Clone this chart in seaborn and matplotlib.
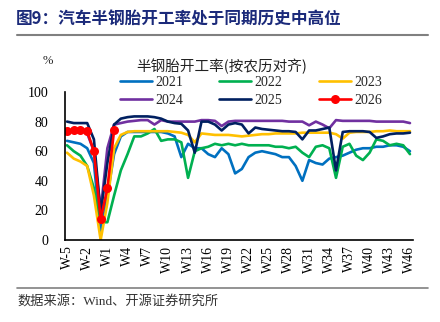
import numpy as np
import pandas as pd
import matplotlib
matplotlib.use("Agg")
import matplotlib.pyplot as plt
from matplotlib.lines import Line2D
import seaborn as sns

weeks = ["W-5", "W-4", "W-3", "W-2", "W-1", "W0"] + [f"W{i}" for i in range(1, 47)]

y2021 = [67, 66, 65, 62, 52, 5, 30, 58, 70, 73, 73, 73, 73, 73, 73, 72, 70, 56, 65, 62,
         62, 58, 56, 62, 58, 45, 48, 56, 59, 60, 59, 58, 56, 56, 50, 40, 54, 52, 51, 55,
         56, 57, 59, 61, 62, 62, 63, 63, 64, 64, 63, 60]
y2022 = [64, 60, 57, 50, 35, 12, 12, 30, 47, 58, 70, 70, 72, 75, 67, 68, 68, 66, 42, 60,
         62, 63, 65, 64, 65, 64, 65, 64, 64, 64, 64, 63, 63, 62, 63, 59, 56, 63, 64, 62,
         42, 63, 65, 57, 54, 59, 68, 67, 64, 65, 64, 58]
y2023 = [59, 55, 53, 50, 30, 0, 25, 62, 71, 73, 73.5, 73.5, 73.5, 73.5, 73.5, 73.5, 73, 72.5, 71, 66,
         72, 71.5, 71, 71, 71, 70.5, 70, 70.5, 71, 71.5, 71.5, 72, 72, 72, 72, 72.5, 72.5, 72.5, 72.5, 72.5,
         71.5, 68.5, 72.5, 73, 73, 73, 73.5, 73.5, 74, 73.5, 73.5, 73.5]
y2024 = [73.5, 73.5, 74, 72, 60, 20, 62, 78, 79, 80, 80.5, 81, 81, 78, 81, 80, 80, 80, 80, 80,
         81, 81, 80.5, 77, 80, 80.5, 80.5, 80.5, 80.5, 80.5, 80.5, 80.5, 80.5, 80, 80, 80, 77.5, 80, 78, 75.5,
         81, 80.5, 80.5, 80.5, 80.5, 80.5, 80, 80, 80, 80, 80, 79]
y2025 = [80, 79, 79, 79, 68, 18, 52, 78, 82, 83, 83.5, 83.5, 83.5, 83, 82, 80, 79, 78.5, 74, 59,
         80, 80, 78, 74, 78, 79, 78, 72, 76, 75, 74.5, 74, 73.5, 73.5, 73, 68, 74, 74, 75, 76,
         47, 73, 73.5, 73.5, 73.5, 73, 69, 70, 71.5, 72, 72, 72.5]
y2026 = [73.5, 74, 74.5, 73.5, 60, 14, 35, 74]

years = ["2021", "2022", "2023", "2024", "2025", "2026"]
colors = ["#0070C0", "#00B050", "#FFC000", "#7030A0", "#002060", "#FF0000"]
series = [y2021, y2022, y2023, y2024, y2025, y2026]

rows = []
for yr, vals in zip(years, series):
    for i, v in enumerate(vals):
        rows.append({"idx": i, "week": weeks[i], "value": v, "year": yr})
df = pd.DataFrame(rows)

sns.set_style("white")
plt.rcParams["font.family"] = ["Liberation Serif", "Noto Sans CJK SC"]

fig = plt.figure(figsize=(4.4, 3.22), dpi=100)
ax = fig.add_axes([65 / 440, 1 - 240 / 322, 348 / 440, 148 / 322])

pal = dict(zip(years, colors))
sns.lineplot(data=df[df.year != "2026"], x="idx", y="value", hue="year",
             palette=pal, linewidth=1.9, ax=ax, legend=False, sort=False)
sns.lineplot(data=df[df.year == "2026"], x="idx", y="value", color="#FF0000",
             linewidth=1.9, marker="o", markersize=6.5, markeredgewidth=0,
             ax=ax, legend=False, sort=False)

ax.set_xlim(-0.3, 51.45)
ax.set_ylim(0, 100)
ax.set_yticks(range(0, 101, 20))
ax.set_xticks(range(0, 52, 3))
ax.set_xticklabels([weeks[i] for i in range(0, 52, 3)], rotation=90)
ax.tick_params(axis="both", direction="in", length=4, width=1, colors="black",
               labelsize=10, pad=4)
ax.tick_params(axis="y", pad=12)
ax.set_xlabel("")
ax.set_ylabel("")
for s in ["top", "right"]:
    ax.spines[s].set_visible(False)
for s in ["left", "bottom"]:
    ax.spines[s].set_color("black")
    ax.spines[s].set_linewidth(1.2)

handles = []
for yr, c in zip(years, colors):
    if yr == "2026":
        handles.append(Line2D([], [], color=c, lw=1.9, marker="o", markersize=6.5, markeredgewidth=0))
    else:
        handles.append(Line2D([], [], color=c, lw=1.9))
order = [0, 3, 1, 4, 2, 5]
leg = fig.legend([handles[i] for i in order], [years[i] for i in order], ncol=3,
                 loc="upper left", bbox_to_anchor=(120 / 440, 1 - 75.5 / 322),
                 frameon=False, fontsize=10, handlelength=2.3, handletextpad=0.25,
                 columnspacing=2.6, labelspacing=0.4, borderpad=0, borderaxespad=0)

fig.text(222 / 440, 1 - 66 / 322, "半钢胎开工率(按农历对齐)", ha="center", va="center",
         fontsize=10.5, family=["Noto Sans CJK SC", "DejaVu Sans"], color="#222222")
fig.text(48 / 440, 1 - 61 / 322, "%", ha="center", va="center", fontsize=9)

fig.text(16 / 440, 1 - 20 / 322, "图9：汽车半钢胎开工率处于同期历史中高位", ha="left", va="center",
         fontsize=12, fontweight="bold", family=["Noto Sans CJK SC", "DejaVu Sans"],
         color="#1B2A7A")
fig.add_artist(Line2D([17 / 440, 428 / 440], [1 - 35 / 322, 1 - 35 / 322],
                      transform=fig.transFigure, color="#808080", lw=1.5))
fig.add_artist(Line2D([17 / 440, 428 / 440], [1 - 288 / 322, 1 - 288 / 322],
                      transform=fig.transFigure, color="#808080", lw=1.2))
fig.text(17 / 440, 1 - 301 / 322, "数据来源：Wind、开源证券研究所", ha="left", va="center",
         fontsize=9.5, family=["Liberation Serif", "Noto Sans CJK SC"], color="#333333")

fig.savefig("out.png", dpi=100)
